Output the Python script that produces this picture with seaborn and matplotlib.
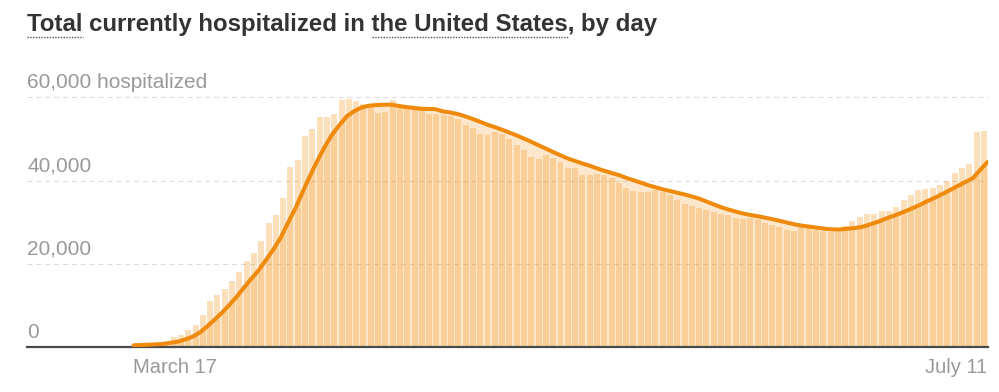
import numpy as np
import pandas as pd
import matplotlib
matplotlib.use("Agg")
import matplotlib.pyplot as plt
from matplotlib.lines import Line2D
import seaborn as sns

# ---------------- data ----------------
title = "Total currently hospitalized in the United States, by day"
start_label = "March 17"
end_label = "July 11"
y_ticks = [0, 20000, 40000, 60000]
y_tick_labels = ["0", "20,000", "40,000", "60,000 hospitalized"]

# daily currently-hospitalized counts, March 17 .. July 11
hospitalized = [
    400, 550, 700, 900, 1150, 2320, 2880, 4080, 5200, 7800,
    11080, 12400, 14040, 15840, 18040, 20640, 22680, 25400, 29880, 31680,
    35720, 43240, 44920, 50680, 52400, 55280, 55200, 55920, 59360, 59520,
    59160, 58480, 58320, 56240, 56440, 59400, 57520, 57280, 57040, 56880,
    55920, 55920, 55840, 55600, 54800, 53280, 52560, 51200, 50960, 51680,
    51280, 49920, 48480, 47280, 45680, 45120, 46080, 45440, 44400, 43040,
    43040, 41440, 41360, 41520, 41360, 40720, 39440, 38320, 37440, 37280,
    37280, 37840, 37280, 36640, 35280, 34480, 33840, 33440, 32880, 32400,
    31920, 31600, 30960, 30800, 31040, 30800, 29840, 29360, 28720, 28080,
    27840, 29120, 29200, 28080, 27760, 27680, 28080, 29040, 30320, 31200,
    31920, 31840, 32640, 32640, 33600, 35360, 36480, 37680, 37960, 38240,
    38880, 40000, 41840, 43080, 43960, 51600, 51840,
]

# ---------------- style ----------------
ORANGE = "#f4961e"
LINE = "#ef8a0c"
GRID = "#dcdcdc"
LABEL = "#999999"

sns.set_theme(style="white")
plt.rcParams["font.family"] = ["Liberation Sans", "DejaVu Sans"]

W, H = 999, 392
fig = plt.figure(figsize=(W / 100, H / 100), dpi=100)
left_px, right_px, base_px, top_px = 27, 988, 347, 97.3
ax = fig.add_axes([left_px / W, (H - base_px) / H,
                   (right_px - left_px) / W, (base_px - top_px) / H])

n = len(hospitalized)
df = pd.DataFrame({"day": np.arange(n), "hospitalized": hospitalized})
df["avg"] = df["hospitalized"].rolling(7, min_periods=1).mean()
# the average line spans the full band range (first band start to last band end)
df["line_x"] = -0.5 + df["day"] * n / (n - 1)

# shaded area under the 7-day average
ax.fill_between(df["line_x"], df["avg"], color=ORANGE, alpha=0.224,
                linewidth=0, zorder=1)

# daily bars
sns.barplot(data=df, x="day", y="hospitalized", native_scale=True,
            color=ORANGE, alpha=0.3, saturation=1, width=0.82,
            linewidth=0, edgecolor="none", errorbar=None, ax=ax, zorder=2)

# 7-day average line
sns.lineplot(data=df, x="line_x", y="avg", color=LINE, linewidth=2.9,
             solid_capstyle="round", solid_joinstyle="round", ax=ax, zorder=3)

ax.set_xlim(-0.5 - (133.5 - left_px) / 7.3, 116.5 + (right_px - 987.5) / 7.3)
ax.set_ylim(0, 60000)

for v in y_ticks[1:]:
    ax.axhline(v, color=GRID, linewidth=0.8, linestyle=(0, (4.5, 3.5)),
               zorder=0.5, clip_on=False)

for s in ["top", "right", "left"]:
    ax.spines[s].set_visible(False)
ax.spines["bottom"].set_color("#4a4a4a")
ax.spines["bottom"].set_linewidth(1.6)
ax.set_xticks([])
ax.set_yticks([])
ax.set_xlabel("")
ax.set_ylabel("")

for v, lab in zip(y_ticks, y_tick_labels):
    ax.annotate(lab, xy=(0, v), xycoords=("axes fraction", "data"),
                xytext=(0, 9.3 * 0.72), textcoords="offset points",
                ha="left", va="baseline", fontsize=15, color=LABEL,
                annotation_clip=False)

ax.annotate(start_label, xy=(-0.5, 0), xycoords=("data", "axes fraction"),
            xytext=(0, -26.3 * 0.72), textcoords="offset points",
            ha="left", va="baseline", fontsize=14.5, color=LABEL,
            annotation_clip=False)
ax.annotate(end_label, xy=(n - 0.5, 0), xycoords=("data", "axes fraction"),
            xytext=(0, -26.3 * 0.72), textcoords="offset points",
            ha="right", va="baseline", fontsize=14.5, color=LABEL,
            annotation_clip=False)

# title with dotted underlines
tprops = dict(fontsize=17.3, weight="bold", color="#333333")
fig.text(left_px / W, 1 - 30.7 / H, title, ha="left", va="baseline", **tprops)

fig.canvas.draw()
renderer = fig.canvas.get_renderer()


def text_w(s):
    t = fig.text(0, 0, s, **tprops)
    w = t.get_window_extent(renderer).width
    t.remove()
    return w


prefix = "Total currently hospitalized in "
u_y = 1 - 37 / H
segments = [
    (left_px, left_px + text_w("Total")),
    (left_px + text_w(prefix + "the") - text_w("the"),
     left_px + text_w(prefix + "the United States")),
]
for x0, x1 in segments:
    fig.add_artist(Line2D([x0 / W, x1 / W], [u_y, u_y], transform=fig.transFigure,
                          color="#555555", linewidth=1.0, linestyle=(0, (1, 1))))

fig.savefig("out.png", dpi=100)
